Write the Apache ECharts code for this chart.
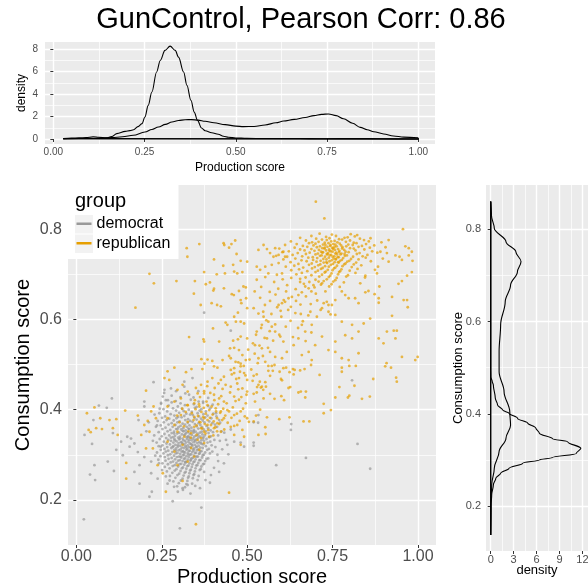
<!DOCTYPE html>
<html>
<head>
<meta charset="utf-8">
<script src="https://cdn.jsdelivr.net/npm/echarts@6/dist/echarts.min.js"></script>
<style>
html, body { margin: 0; padding: 0; background: #ffffff; }
#chart { width: 588px; height: 585px; }
</style>
</head>
<body>
<div id="chart"></div>
<script>
// ---- text and tick values ----
const titleText = 'GunControl, Pearson Corr: 0.86';
const legendTitle = 'group';
const groups = ['democrat', 'republican'];
const groupColors = ['#999999', '#E69F00'];
const productionTicks = [0, 0.25, 0.5, 0.75, 1];
const productionMinor = [0.125, 0.375, 0.625, 0.875];
const consumptionTicks = [0.2, 0.4, 0.6, 0.8];
const consumptionMinor = [0.3, 0.5, 0.7];
const topDensityTicks = [0, 2, 4, 6, 8];
const topDensityMinor = [1, 3, 5, 7];
const sideDensityTicks = [0, 3, 6, 9, 12];
const sideDensityMinor = [1.5, 4.5, 7.5, 10.5];

// ---- scatter points: [production score, consumption score] ----
const democratPoints = [
[0.262,0.421],[0.291,0.419],[0.335,0.422],[0.358,0.418],
[0.248,0.413],[0.279,0.416],[0.305,0.414],[0.344,0.412],[0.371,0.415],
[0.270,0.409],[0.297,0.407],[0.318,0.410],[0.352,0.406],[0.386,0.408],
[0.255,0.401],[0.283,0.403],[0.309,0.402],[0.329,0.400],[0.347,0.404],[0.366,0.401],[0.392,0.403],
[0.266,0.396],[0.292,0.398],[0.314,0.397],[0.338,0.395],[0.361,0.398],[0.379,0.396],
[0.243,0.392],[0.276,0.390],[0.301,0.393],[0.322,0.391],[0.333,0.389],[0.355,0.392],[0.372,0.390],[0.401,0.391],
[0.260,0.385],[0.287,0.387],[0.298,0.384],[0.316,0.386],[0.341,0.388],[0.359,0.385],[0.384,0.387],[0.410,0.385],
[0.251,0.382],[0.272,0.380],[0.293,0.381],[0.308,0.383],[0.327,0.379],[0.346,0.382],[0.365,0.380],[0.377,0.383],[0.395,0.381],
[0.238,0.375],[0.264,0.377],[0.285,0.376],[0.302,0.374],[0.319,0.377],[0.333,0.375],[0.352,0.378],[0.370,0.376],[0.389,0.374],[0.418,0.377],
[0.256,0.372],[0.279,0.370],[0.296,0.372],[0.311,0.369],[0.326,0.371],[0.340,0.373],[0.358,0.370],[0.375,0.372],[0.398,0.370],
[0.247,0.365],[0.270,0.367],[0.290,0.366],[0.305,0.364],[0.318,0.367],[0.331,0.365],[0.347,0.368],[0.363,0.366],[0.381,0.364],[0.406,0.367],
[0.233,0.362],[0.261,0.360],[0.282,0.362],[0.299,0.361],[0.313,0.359],[0.323,0.362],[0.337,0.360],[0.352,0.363],[0.368,0.361],[0.386,0.359],[0.412,0.362],
[0.252,0.357],[0.275,0.355],[0.292,0.357],[0.307,0.356],[0.320,0.354],[0.330,0.357],[0.344,0.355],[0.357,0.358],[0.373,0.356],[0.393,0.354],
[0.241,0.350],[0.267,0.352],[0.286,0.351],[0.301,0.349],[0.314,0.352],[0.326,0.350],[0.336,0.353],[0.349,0.351],[0.362,0.349],[0.379,0.352],[0.400,0.350],[0.425,0.352],
[0.258,0.346],[0.279,0.348],[0.295,0.347],[0.309,0.345],[0.321,0.348],[0.332,0.346],[0.343,0.349],[0.355,0.347],[0.369,0.345],[0.387,0.348],
[0.228,0.343],[0.250,0.341],[0.272,0.343],[0.289,0.342],[0.303,0.340],[0.316,0.343],[0.327,0.341],[0.338,0.344],[0.350,0.342],[0.363,0.340],[0.376,0.343],[0.394,0.341],[0.415,0.343],
[0.263,0.337],[0.283,0.339],[0.298,0.338],[0.311,0.336],[0.323,0.339],[0.334,0.337],[0.345,0.340],[0.357,0.338],[0.371,0.336],[0.389,0.339],
[0.244,0.335],[0.269,0.333],[0.287,0.335],[0.301,0.334],[0.313,0.332],[0.324,0.335],[0.330,0.333],[0.341,0.336],[0.352,0.334],[0.366,0.332],[0.381,0.335],[0.404,0.333],
[0.256,0.329],[0.277,0.331],[0.293,0.330],[0.306,0.328],[0.318,0.331],[0.328,0.329],[0.337,0.332],[0.348,0.330],[0.360,0.328],[0.374,0.331],[0.392,0.329],[0.420,0.331],
[0.235,0.327],[0.264,0.325],[0.284,0.327],[0.299,0.326],[0.311,0.324],[0.321,0.327],[0.332,0.325],[0.343,0.328],[0.354,0.326],[0.367,0.324],[0.384,0.327],
[0.252,0.321],[0.274,0.323],[0.290,0.322],[0.304,0.320],[0.316,0.323],[0.326,0.321],[0.336,0.324],[0.347,0.322],[0.358,0.320],[0.372,0.323],[0.396,0.321],
[0.241,0.319],[0.266,0.317],[0.284,0.319],[0.297,0.318],[0.309,0.316],[0.320,0.319],[0.330,0.317],[0.340,0.320],[0.351,0.318],[0.363,0.316],[0.379,0.319],[0.407,0.317],
[0.258,0.313],[0.278,0.315],[0.292,0.314],[0.305,0.312],[0.315,0.315],[0.325,0.313],[0.335,0.316],[0.345,0.314],[0.357,0.312],[0.370,0.315],[0.388,0.313],
[0.247,0.311],[0.269,0.309],[0.287,0.311],[0.300,0.310],[0.312,0.308],[0.322,0.311],[0.332,0.309],[0.342,0.312],[0.353,0.310],[0.366,0.308],[0.383,0.311],
[0.236,0.305],[0.262,0.307],[0.281,0.306],[0.296,0.304],[0.308,0.307],[0.318,0.305],[0.329,0.308],[0.339,0.306],[0.350,0.304],[0.362,0.307],[0.377,0.305],[0.398,0.307],
[0.255,0.303],[0.275,0.301],[0.291,0.303],[0.304,0.302],[0.315,0.300],[0.326,0.303],[0.336,0.301],[0.347,0.304],[0.359,0.302],[0.373,0.300],[0.391,0.303],
[0.246,0.297],[0.268,0.299],[0.286,0.298],[0.300,0.296],[0.312,0.299],[0.322,0.297],[0.333,0.300],[0.344,0.298],[0.356,0.296],[0.370,0.299],
[0.259,0.295],[0.279,0.293],[0.294,0.295],[0.307,0.294],[0.318,0.292],[0.329,0.295],[0.341,0.293],[0.353,0.296],[0.368,0.294],[0.386,0.292],
[0.240,0.289],[0.270,0.291],[0.289,0.290],[0.303,0.288],[0.315,0.291],[0.326,0.289],[0.337,0.292],[0.349,0.290],[0.363,0.288],[0.381,0.291],
[0.261,0.287],[0.283,0.285],[0.298,0.287],[0.311,0.286],[0.322,0.284],[0.334,0.287],[0.346,0.285],[0.360,0.288],[0.377,0.286],
[0.252,0.281],[0.276,0.283],[0.293,0.282],[0.307,0.280],[0.319,0.283],[0.331,0.281],[0.343,0.284],[0.357,0.282],[0.374,0.280],
[0.268,0.279],[0.288,0.277],[0.302,0.279],[0.316,0.278],[0.328,0.276],[0.340,0.279],[0.354,0.277],[0.371,0.279],
[0.259,0.273],[0.282,0.275],[0.298,0.274],[0.312,0.272],[0.325,0.275],[0.338,0.273],[0.351,0.276],[0.366,0.274],
[0.273,0.270],[0.293,0.268],[0.309,0.270],[0.322,0.269],[0.335,0.267],[0.349,0.270],[0.364,0.268],
[0.265,0.263],[0.288,0.265],[0.305,0.264],[0.320,0.262],[0.333,0.265],[0.347,0.263],[0.361,0.266],
[0.281,0.260],[0.301,0.258],[0.317,0.260],[0.331,0.259],[0.345,0.257],
[0.274,0.253],[0.296,0.255],[0.314,0.254],[0.329,0.252],[0.343,0.255],[0.358,0.253],
[0.290,0.249],[0.311,0.247],[0.327,0.249],[0.341,0.248],
[0.284,0.241],[0.306,0.243],[0.325,0.242],
[0.300,0.237],[0.322,0.235],[0.339,0.236],
[0.295,0.230],[0.318,0.228],[0.312,0.222],
[0.296,0.357],[0.311,0.353],[0.328,0.358],[0.343,0.352],[0.318,0.345],[0.303,0.336],[0.329,0.339],[0.346,0.333],[0.309,0.327],[0.338,0.322],
[0.322,0.316],[0.297,0.321],[0.352,0.317],[0.314,0.306],[0.343,0.309],[0.328,0.300],[0.305,0.296],[0.335,0.289],[0.319,0.284],[0.357,0.343],
[0.288,0.332],[0.364,0.326],[0.292,0.309],[0.361,0.303],[0.349,0.296],[0.286,0.347],[0.372,0.339],[0.282,0.317],[0.367,0.351],[0.277,0.338],
[0.205,0.352],[0.212,0.372],[0.224,0.331],[0.229,0.389],[0.231,0.298],[0.236,0.365],[0.242,0.281],[0.244,0.402],[0.247,0.318],[0.251,0.266],
[0.257,0.437],[0.262,0.252],[0.268,0.421],[0.273,0.243],[0.279,0.431],[0.286,0.229],[0.292,0.441],[0.297,0.218],[0.305,0.428],[0.311,0.226],
[0.319,0.436],[0.334,0.214],[0.343,0.427],[0.348,0.231],[0.357,0.441],[0.362,0.226],[0.371,0.418],[0.378,0.244],[0.386,0.426],[0.391,0.238],
[0.399,0.411],[0.403,0.271],[0.409,0.392],[0.415,0.286],[0.421,0.371],[0.427,0.312],[0.433,0.349],[0.438,0.333],[0.445,0.301],[0.452,0.356],
[0.022,0.157],[0.024,0.344],[0.046,0.324],[0.053,0.277],[0.055,0.244],[0.066,0.409],[0.089,0.404],[0.104,0.425],[0.050,0.377],[0.107,0.348],
[0.117,0.311],[0.110,0.264],[0.092,0.285],[0.136,0.299],[0.156,0.318],[0.160,0.336],[0.170,0.325],[0.180,0.306],[0.185,0.277],[0.170,0.262],
[0.185,0.236],[0.214,0.207],[0.221,0.218],[0.226,0.461],[0.199,0.418],[0.199,0.407],[0.182,0.377],[0.149,0.340],[0.131,0.329],[0.258,0.444],
[0.253,0.429],[0.277,0.447],[0.316,0.462],[0.340,0.470],[0.316,0.451],[0.330,0.433],[0.248,0.415],[0.282,0.197],[0.303,0.137],[0.366,0.183],
[0.481,0.327],[0.491,0.318],[0.462,0.329],[0.442,0.322],[0.413,0.300],[0.432,0.281],[0.418,0.262],[0.394,0.255],[0.374,0.262],[0.355,0.244],
[0.326,0.233],[0.267,0.236],[0.238,0.247],[0.219,0.259],[0.219,0.285],[0.199,0.295],[0.040,0.256],
[0.807,0.465],[0.533,0.388],[0.519,0.372],[0.532,0.371],[0.629,0.368],[0.628,0.355],[0.519,0.327],[0.519,0.320],[0.585,0.277],[0.672,0.293],
[0.823,0.324],[0.860,0.269],[0.374,0.615],[0.452,0.575]
];

const republicanPoints = [
[0.712,0.790],[0.748,0.788],[0.803,0.789],[0.822,0.787],
[0.688,0.785],[0.731,0.783],[0.760,0.785],[0.794,0.782],[0.815,0.784],
[0.655,0.781],[0.702,0.779],[0.741,0.780],[0.769,0.778],[0.785,0.781],[0.830,0.779],[0.861,0.780],
[0.672,0.775],[0.719,0.777],[0.733,0.776],[0.756,0.774],[0.778,0.777],[0.801,0.775],[0.842,0.776],
[0.628,0.773],[0.690,0.771],[0.709,0.772],[0.727,0.770],[0.746,0.773],[0.764,0.771],[0.789,0.772],[0.812,0.770],[0.856,0.773],[0.893,0.771],
[0.645,0.767],[0.681,0.769],[0.700,0.768],[0.722,0.766],[0.738,0.769],[0.752,0.767],[0.771,0.768],[0.796,0.766],[0.820,0.769],[0.848,0.767],
[0.611,0.765],[0.663,0.763],[0.694,0.764],[0.713,0.762],[0.729,0.765],[0.743,0.763],[0.758,0.766],[0.775,0.764],[0.790,0.762],[0.809,0.765],[0.836,0.763],[0.872,0.764],
[0.639,0.759],[0.676,0.761],[0.704,0.760],[0.720,0.758],[0.735,0.761],[0.749,0.759],[0.762,0.762],[0.779,0.760],[0.801,0.758],[0.826,0.761],[0.859,0.759],[0.905,0.760],
[0.594,0.757],[0.655,0.755],[0.688,0.756],[0.710,0.754],[0.726,0.757],[0.740,0.755],[0.752,0.758],[0.766,0.756],[0.784,0.754],[0.812,0.757],[0.843,0.755],
[0.622,0.751],[0.668,0.753],[0.697,0.752],[0.716,0.750],[0.731,0.753],[0.745,0.751],[0.757,0.754],[0.770,0.752],[0.788,0.750],[0.817,0.753],[0.866,0.751],
[0.603,0.749],[0.648,0.747],[0.683,0.748],[0.707,0.746],[0.722,0.749],[0.737,0.747],[0.750,0.750],[0.761,0.748],[0.776,0.746],[0.797,0.749],[0.829,0.747],[0.881,0.748],
[0.633,0.743],[0.672,0.745],[0.700,0.744],[0.718,0.742],[0.733,0.745],[0.746,0.743],[0.758,0.746],[0.773,0.744],[0.792,0.742],[0.821,0.745],[0.852,0.743],
[0.585,0.741],[0.617,0.739],[0.661,0.740],[0.692,0.738],[0.713,0.741],[0.728,0.739],[0.742,0.742],[0.755,0.740],[0.768,0.738],[0.786,0.741],[0.810,0.739],[0.838,0.740],
[0.641,0.735],[0.679,0.737],[0.705,0.736],[0.723,0.734],[0.739,0.737],[0.753,0.735],[0.765,0.738],[0.781,0.736],[0.804,0.734],[0.847,0.737],[0.897,0.735],
[0.606,0.733],[0.659,0.731],[0.693,0.732],[0.715,0.730],[0.732,0.733],[0.748,0.731],[0.760,0.734],[0.777,0.732],[0.799,0.730],[0.826,0.733],
[0.627,0.727],[0.674,0.729],[0.703,0.728],[0.724,0.726],[0.741,0.729],[0.756,0.727],[0.772,0.730],[0.793,0.728],[0.819,0.726],[0.862,0.729],
[0.592,0.725],[0.650,0.723],[0.689,0.724],[0.714,0.722],[0.734,0.725],[0.751,0.723],[0.768,0.726],[0.788,0.724],[0.812,0.722],
[0.638,0.719],[0.681,0.721],[0.708,0.720],[0.728,0.718],[0.745,0.721],[0.763,0.719],[0.784,0.722],[0.834,0.720],
[0.613,0.717],[0.664,0.715],[0.698,0.716],[0.721,0.714],[0.739,0.717],[0.758,0.715],[0.779,0.718],[0.806,0.716],
[0.652,0.711],[0.690,0.713],[0.716,0.712],[0.736,0.710],[0.754,0.713],[0.776,0.711],[0.823,0.712],[0.874,0.710],
[0.629,0.709],[0.676,0.707],[0.707,0.708],[0.730,0.706],[0.750,0.709],[0.772,0.707],[0.800,0.708],
[0.660,0.703],[0.700,0.705],[0.727,0.704],[0.747,0.702],[0.769,0.705],[0.817,0.703],
[0.644,0.700],[0.688,0.698],[0.719,0.699],[0.743,0.697],[0.766,0.700],[0.795,0.698],
[0.671,0.693],[0.711,0.695],[0.739,0.694],[0.762,0.692],[0.790,0.695],[0.845,0.693],
[0.655,0.690],[0.700,0.688],[0.733,0.689],[0.758,0.687],
[0.682,0.683],[0.724,0.685],[0.752,0.684],[0.783,0.682],
[0.666,0.679],[0.716,0.677],[0.747,0.678],
[0.697,0.671],[0.740,0.673],[0.771,0.672],
[0.727,0.759],[0.741,0.752],[0.756,0.761],[0.769,0.749],[0.735,0.744],[0.750,0.739],[0.763,0.744],[0.778,0.757],[0.744,0.765],[0.759,0.733],
[0.720,0.748],[0.785,0.745],[0.732,0.727],[0.766,0.727],[0.751,0.756],
[0.701,0.861],[0.726,0.824],[0.956,0.800],[0.914,0.776],[0.963,0.762],[0.973,0.758],[0.982,0.750],[0.973,0.742],[0.946,0.739],[0.934,0.742],
[0.953,0.732],[0.984,0.730],[0.914,0.728],[0.890,0.750],[0.909,0.747],[0.883,0.717],[0.880,0.702],[0.968,0.697],[0.982,0.705],[0.953,0.685],
[0.943,0.679],[0.887,0.673],[0.846,0.697],[0.831,0.680],[0.855,0.663],[0.846,0.660],[0.873,0.656],[0.885,0.647],[0.924,0.650],[0.958,0.643],
[0.968,0.643],[0.970,0.627],[0.924,0.608],[0.885,0.637],[0.816,0.647],[0.826,0.636],[0.797,0.647],[0.777,0.662],[0.787,0.654],[0.758,0.643],
[0.748,0.632],[0.738,0.632],[0.733,0.639],[0.724,0.636],[0.709,0.684],[0.719,0.680],[0.694,0.676],[0.680,0.669],[0.670,0.673],[0.660,0.660],
[0.650,0.654],[0.631,0.650],[0.621,0.647],[0.611,0.639],[0.602,0.636],[0.592,0.632],
[0.533,0.754],[0.548,0.765],[0.558,0.756],[0.567,0.747],[0.582,0.758],[0.577,0.739],[0.592,0.743],[0.606,0.750],[0.611,0.739],[0.572,0.721],
[0.553,0.717],[0.538,0.710],[0.528,0.717],[0.562,0.702],[0.587,0.699],[0.602,0.702],
[0.528,0.688],[0.541,0.672],[0.553,0.694],[0.566,0.661],[0.579,0.683],[0.591,0.668],[0.604,0.689],[0.617,0.676],[0.629,0.692],[0.642,0.667],
[0.655,0.683],[0.538,0.648],[0.552,0.632],[0.567,0.641],[0.583,0.655],[0.598,0.619],[0.614,0.662],[0.628,0.628],[0.643,0.641],[0.657,0.612],
[0.672,0.651],[0.686,0.634],[0.701,0.657],[0.715,0.621],[0.729,0.662],[0.744,0.611],[0.688,0.662],[0.705,0.642],[0.522,0.662],[0.547,0.617],
[0.519,0.625],[0.533,0.613],[0.548,0.606],[0.562,0.595],[0.572,0.584],[0.582,0.573],[0.597,0.562],[0.606,0.551],[0.543,0.588],[0.528,0.573],
[0.558,0.558],[0.523,0.543],[0.543,0.536],[0.567,0.528],[0.582,0.517],[0.533,0.514],[0.553,0.506],[0.602,0.514],[0.616,0.528],[0.636,0.543],
[0.650,0.558],[0.670,0.573],[0.689,0.588],[0.660,0.588],[0.685,0.617],[0.704,0.606],[0.719,0.625],[0.738,0.617],[0.758,0.610],[0.777,0.595],
[0.807,0.588],[0.826,0.573],[0.841,0.591],[0.860,0.602],[0.807,0.558],[0.787,0.565],[0.758,0.551],[0.738,0.532],[0.719,0.562],[0.699,0.543],
[0.680,0.528],[0.660,0.521],[0.689,0.510],[0.758,0.528],[0.777,0.514],[0.797,0.510],[0.826,0.525],[0.885,0.558],[0.909,0.573],[0.929,0.575],
[0.938,0.575],[0.899,0.547],[0.934,0.558],[0.953,0.517],[0.999,0.517],[0.992,0.510],
[0.455,0.478],[0.462,0.492],[0.468,0.468],[0.474,0.505],[0.479,0.484],[0.486,0.521],[0.490,0.497],[0.495,0.476],[0.503,0.533],[0.507,0.511],
[0.512,0.489],[0.517,0.547],[0.522,0.524],[0.526,0.566],[0.531,0.503],[0.536,0.542],[0.541,0.581],[0.546,0.519],[0.551,0.559],[0.556,0.598],
[0.561,0.537],[0.566,0.574],[0.571,0.612],[0.576,0.553],[0.582,0.589],[0.588,0.627],[0.594,0.566],[0.600,0.606],[0.607,0.643],[0.613,0.584],
[0.620,0.621],[0.627,0.597],[0.634,0.561],[0.641,0.614],[0.649,0.581],[0.656,0.633],[0.663,0.596],[0.671,0.552],[0.679,0.609],[0.688,0.571],
[0.323,0.758],[0.360,0.767],[0.325,0.739],[0.431,0.769],[0.433,0.765],[0.454,0.767],[0.465,0.775],[0.447,0.759],[0.403,0.733],[0.469,0.745],
[0.430,0.719],[0.459,0.721],[0.481,0.730],[0.500,0.728],[0.374,0.705],[0.411,0.700],[0.435,0.702],[0.462,0.706],[0.471,0.702],[0.486,0.705],
[0.214,0.701],[0.227,0.680],[0.293,0.685],[0.347,0.685],[0.379,0.678],[0.391,0.682],[0.403,0.668],[0.401,0.664],[0.432,0.669],[0.455,0.656],
[0.461,0.654],[0.476,0.663],[0.489,0.673],[0.496,0.671],[0.344,0.657],[0.396,0.636],[0.412,0.632],[0.423,0.629],[0.364,0.632],[0.173,0.626],
[0.473,0.615],[0.481,0.643],[0.497,0.647],[0.483,0.636],[0.500,0.625],[0.462,0.606],[0.467,0.595],[0.481,0.595],[0.491,0.591],[0.400,0.580],
[0.437,0.593],[0.442,0.588],[0.330,0.561],[0.372,0.556],[0.374,0.551],[0.418,0.551],[0.459,0.553],[0.473,0.556],[0.481,0.562],[0.500,0.558],
[0.450,0.536],[0.462,0.537],[0.476,0.532],[0.366,0.512],[0.384,0.511],[0.398,0.508],[0.375,0.502],[0.428,0.510],[0.447,0.519],[0.452,0.514],
[0.466,0.506],[0.481,0.502],[0.496,0.510],
[0.053,0.405],[0.031,0.392],[0.070,0.381],[0.097,0.377],[0.117,0.379],[0.058,0.359],[0.036,0.355],[0.075,0.357],[0.042,0.350],[0.107,0.359],
[0.121,0.344],[0.143,0.398],[0.146,0.282],[0.146,0.247],[0.180,0.387],[0.199,0.366],[0.204,0.442],[0.226,0.407],[0.219,0.396],[0.233,0.381],
[0.209,0.375],[0.214,0.351],[0.190,0.344],[0.204,0.314],[0.258,0.470],[0.267,0.485],[0.287,0.493],[0.321,0.483],[0.337,0.490],[0.369,0.490],
[0.403,0.496],[0.413,0.493],[0.452,0.488],[0.481,0.496],[0.462,0.481],[0.476,0.470],[0.491,0.481],[0.500,0.466],[0.272,0.466],[0.311,0.455],
[0.296,0.444],[0.326,0.440],[0.350,0.448],[0.365,0.455],[0.384,0.462],[0.398,0.470],[0.423,0.466],[0.432,0.473],[0.437,0.455],[0.452,0.451],
[0.471,0.458],[0.486,0.447],[0.500,0.440],[0.403,0.433],[0.374,0.436],[0.418,0.425],[0.432,0.418],[0.462,0.429],[0.476,0.422],[0.496,0.414],
[0.306,0.425],[0.287,0.418],[0.267,0.407],[0.326,0.410],[0.345,0.414],[0.360,0.407],[0.384,0.410],[0.408,0.403],[0.423,0.396],[0.442,0.399],
[0.462,0.388],[0.481,0.396],[0.500,0.381],[0.432,0.381],[0.413,0.370],[0.452,0.362],[0.471,0.366],[0.486,0.355],[0.505,0.373],[0.403,0.359],
[0.423,0.351],[0.462,0.344],[0.481,0.322],[0.491,0.340],[0.447,0.216],[0.350,0.146],[0.262,0.218],[0.311,0.242],
[0.267,0.381],[0.287,0.366],[0.306,0.388],[0.326,0.373],[0.345,0.384],[0.360,0.373],[0.374,0.381],[0.384,0.366],[0.365,0.359],[0.345,0.362],
[0.296,0.351],[0.316,0.340],[0.336,0.348],[0.355,0.333],[0.374,0.351],[0.267,0.329],[0.287,0.307],[0.311,0.322],[0.336,0.315],[0.360,0.311],
[0.374,0.326],[0.296,0.277],[0.326,0.285],[0.345,0.296],[0.238,0.277],[0.253,0.259],[0.224,0.314],
[0.338,0.392],[0.343,0.377],[0.349,0.401],[0.352,0.365],[0.356,0.386],[0.359,0.412],[0.363,0.372],[0.366,0.395],[0.368,0.358],[0.371,0.384],
[0.373,0.404],[0.376,0.368],[0.379,0.391],[0.381,0.418],[0.384,0.377],[0.386,0.355],[0.389,0.399],[0.391,0.382],[0.394,0.366],[0.396,0.407],
[0.399,0.389],[0.402,0.374],[0.404,0.421],[0.407,0.361],[0.409,0.396],[0.412,0.381],[0.415,0.412],[0.418,0.368],[0.421,0.393],[0.424,0.430],
[0.427,0.377],[0.430,0.402],[0.433,0.356],[0.436,0.387],[0.440,0.414],[0.443,0.371],[0.447,0.396],[0.450,0.438],[0.454,0.382],[0.458,0.405],
[0.462,0.364],[0.466,0.419],[0.470,0.391],[0.474,0.445],[0.478,0.375],[0.483,0.428],[0.488,0.402],[0.493,0.385],[0.498,0.433],[0.347,0.421],
[0.355,0.436],[0.362,0.428],[0.374,0.441],[0.383,0.452],[0.392,0.437],[0.405,0.448],[0.416,0.458],[0.428,0.446],[0.320,0.395],[0.325,0.410],
[0.310,0.402],[0.295,0.387],[0.302,0.372],[0.315,0.363],[0.328,0.352],[0.335,0.338],[0.352,0.344],[0.365,0.337],[0.378,0.347],[0.389,0.340],
[0.401,0.343],[0.412,0.352],
[0.562,0.497],[0.572,0.497],[0.580,0.499],[0.606,0.492],[0.614,0.493],[0.634,0.490],[0.639,0.488],[0.655,0.487],[0.668,0.490],[0.687,0.499],
[0.562,0.486],[0.575,0.486],[0.595,0.484],[0.624,0.483],[0.636,0.478],[0.528,0.478],[0.519,0.475],[0.567,0.475],[0.712,0.477],[0.599,0.468],
[0.602,0.465],[0.516,0.464],[0.537,0.462],[0.553,0.461],[0.533,0.455],[0.543,0.451],[0.540,0.449],[0.555,0.451],[0.529,0.450],[0.621,0.448],
[0.626,0.450],[0.547,0.444],[0.528,0.438],[0.519,0.435],[0.567,0.435],[0.600,0.430],[0.650,0.438],[0.657,0.440],[0.672,0.440],[0.670,0.427],
[0.548,0.425],[0.580,0.424],[0.608,0.421],[0.523,0.418],[0.724,0.413],[0.538,0.400],[0.745,0.399],[0.526,0.387],[0.558,0.383],[0.594,0.379],
[0.624,0.383],[0.724,0.392],[0.519,0.374],[0.665,0.374],[0.682,0.374],[0.553,0.361],[0.533,0.344],[0.554,0.346],[0.777,0.493],[0.799,0.497],
[0.818,0.497],[0.777,0.484],[0.770,0.450],[0.814,0.453],[0.758,0.427],[0.795,0.427],[0.799,0.431],[0.836,0.424],[0.859,0.429],[0.869,0.468],
[0.904,0.496],[0.921,0.493],[0.936,0.471],[0.938,0.462],[0.908,0.503]
];

// ---- marginal densities ----
// production score density: [score, density]
const democratProductionDensity = [
[0.027,0.03],[0.050,0.08],[0.070,0.10],[0.090,0.12],[0.109,0.20],[0.125,0.15],[0.146,0.10],[0.160,0.22],[0.174,0.48],[0.197,0.68],
[0.210,0.75],[0.220,0.82],[0.232,1.10],[0.243,1.37],[0.251,1.96],[0.260,3.00],[0.270,4.19],[0.283,5.98],[0.293,7.00],[0.306,7.90],
[0.320,8.28],[0.334,7.90],[0.343,7.30],[0.357,5.98],[0.366,4.79],[0.377,3.45],[0.386,2.40],[0.395,1.66],[0.406,0.98],[0.416,0.74],
[0.434,0.56],[0.452,0.42],[0.466,0.24],[0.480,0.15],[0.500,0.09],[0.530,0.06],[0.580,0.04],[0.650,0.05],[0.700,0.03],[0.750,0.02],
[0.820,0.04],[0.900,0.02],[1.000,0.00]
];
const republicanProductionDensity = [
[0.027,0.02],[0.070,0.04],[0.100,0.06],[0.130,0.08],[0.160,0.12],[0.190,0.20],[0.219,0.33],[0.251,0.62],[0.270,0.85],[0.288,1.07],
[0.307,1.30],[0.325,1.52],[0.343,1.65],[0.361,1.72],[0.379,1.73],[0.397,1.68],[0.416,1.58],[0.440,1.45],[0.471,1.28],[0.500,1.15],
[0.521,1.10],[0.550,1.12],[0.580,1.25],[0.610,1.45],[0.631,1.60],[0.660,1.75],[0.690,1.92],[0.714,2.08],[0.735,2.20],[0.754,2.23],
[0.775,2.08],[0.795,1.80],[0.820,1.40],[0.841,1.04],[0.860,0.82],[0.878,0.65],[0.905,0.45],[0.932,0.27],[0.960,0.17],[1.000,0.10]
];
// consumption score density: [density, score]
const democratConsumptionDensity = [
[0.00,0.137],[0.05,0.202],[0.13,0.224],[0.35,0.246],[0.67,0.260],[1.30,0.271],[2.40,0.282],[4.20,0.293],[6.37,0.300],[8.10,0.305],
[11.20,0.314],[11.80,0.325],[10.10,0.339],[8.10,0.346],[6.37,0.358],[5.90,0.369],[4.84,0.380],[3.53,0.390],[2.40,0.401],[1.57,0.408],
[0.90,0.419],[0.60,0.434],[0.35,0.462],[0.20,0.470],[0.02,0.480],[0.00,0.500],[0.00,0.860]
];
const republicanConsumptionDensity = [
[0.00,0.137],[0.02,0.200],[0.13,0.246],[0.47,0.282],[1.10,0.318],[2.00,0.347],[2.60,0.375],[2.50,0.404],[1.75,0.448],[1.10,0.491],
[1.10,0.535],[1.30,0.593],[1.90,0.643],[2.60,0.679],[3.50,0.708],[3.97,0.730],[3.30,0.751],[2.00,0.773],[0.47,0.802],[0.10,0.830],
[0.00,0.860]
];

// ---- styling ----
const FONT = '"Liberation Sans", Arial, Helvetica, sans-serif';
const PANEL_BG = '#EBEBEB';

function majorAxis(o) {
  return {
    type: 'value', gridIndex: o.grid, min: o.min, max: o.max,
    axisLine: { show: false },
    axisTick: { show: true, length: 3, lineStyle: { color: '#333333', width: 1 }, customValues: o.ticks },
    axisLabel: { customValues: o.ticks, formatter: o.fmt, fontSize: o.fs, color: '#4D4D4D',
                 margin: o.margin, fontFamily: FONT, showMinLabel: true, showMaxLabel: true, hideOverlap: false },
    splitLine: { show: true, lineStyle: { color: '#FFFFFF', width: 1.4 } },
    name: o.name, nameLocation: 'middle', nameGap: o.gap, nameMoveOverlap: false,
    nameTextStyle: { fontSize: o.nfs, color: '#000000', fontFamily: FONT }
  };
}
function minorAxis(o) {
  return {
    type: 'value', gridIndex: o.grid, min: o.min, max: o.max,
    axisLine: { show: false },
    axisTick: { show: false, customValues: o.ticks },
    axisLabel: { show: false, customValues: o.ticks },
    splitLine: { show: true, lineStyle: { color: '#FFFFFF', width: 0.7 } }
  };
}
const fmt2 = v => v.toFixed(2);
const fmt1 = v => v.toFixed(1);
const fmt0 = v => String(Math.round(v));

// value ranges of the three panels
const topX = { min: -0.0228, max: 1.0457 };
const topY = { min: -0.446, max: 8.65 };
const mainX = { min: -0.0244, max: 1.0527 };
const mainY = { min: 0.1, max: 0.898 };
const sideX = { min: -0.615, max: 12.736 };
const sideY = { min: 0.1025, max: 0.896 };

const xAxes = [
  majorAxis({ grid: 0, ...topX, ticks: productionTicks, fmt: fmt2, fs: 10, margin: 3, name: 'Production score', gap: 18, nfs: 12 }),
  majorAxis({ grid: 1, ...mainX, ticks: productionTicks, fmt: fmt2, fs: 16, margin: 4, name: 'Production score', gap: 22, nfs: 20 }),
  majorAxis({ grid: 2, ...sideX, ticks: sideDensityTicks, fmt: fmt0, fs: 11, margin: 3, name: 'density', gap: 13, nfs: 13 }),
  minorAxis({ grid: 0, ...topX, ticks: productionMinor }),
  minorAxis({ grid: 1, ...mainX, ticks: productionMinor }),
  minorAxis({ grid: 2, ...sideX, ticks: sideDensityMinor })
];
const yAxes = [
  majorAxis({ grid: 0, ...topY, ticks: topDensityTicks, fmt: fmt0, fs: 10, margin: 7, name: 'density', gap: 17, nfs: 12 }),
  majorAxis({ grid: 1, ...mainY, ticks: consumptionTicks, fmt: fmt1, fs: 16, margin: 6, name: 'Consumption score', gap: 35, nfs: 20 }),
  majorAxis({ grid: 2, ...sideY, ticks: consumptionTicks, fmt: fmt1, fs: 11, margin: 5, name: 'Consumption score', gap: 21.5, nfs: 13 }),
  minorAxis({ grid: 0, ...topY, ticks: topDensityMinor }),
  minorAxis({ grid: 1, ...mainY, ticks: consumptionMinor }),
  minorAxis({ grid: 2, ...sideY, ticks: consumptionMinor })
];

const lineStyle = { color: '#000000', width: 1.1 };
function densityCurve(name, data, idx, mono) {
  return { type: 'line', name, xAxisIndex: idx, yAxisIndex: idx, data, symbol: 'none',
           smooth: 0.35, smoothMonotone: mono, lineStyle, silent: true, z: 3 };
}
function densityEdges(name, data, idx) {
  return { type: 'line', name, xAxisIndex: idx, yAxisIndex: idx, data, symbol: 'none',
           lineStyle, silent: true, z: 3 };
}
// closing edges of each density outline (ends down to zero and the baseline)
function topEdges(d) {
  const a = d[0], b = d[d.length - 1];
  return [[a[0], a[1]], [a[0], 0], [b[0], 0], [b[0], b[1]]];
}
function sideEdges(d) {
  const a = d[0], b = d[d.length - 1];
  return [[a[0], a[1]], [0, a[1]], [0, b[1]], [b[0], b[1]]];
}
function scatter(name, data, color) {
  return { type: 'scatter', name, xAxisIndex: 1, yAxisIndex: 1, data, symbol: 'circle', symbolSize: 2.8,
           itemStyle: { color, opacity: 0.7 }, silent: true, z: 2 };
}

const gridBase = { show: true, backgroundColor: PANEL_BG, borderWidth: 0, containLabel: false, outerBoundsMode: 'none' };

const option = {
  animation: false,
  backgroundColor: '#FFFFFF',
  textStyle: { fontFamily: FONT },
  grid: [
    { ...gridBase, left: 45, top: 42, width: 390, height: 102 },
    { ...gridBase, left: 68, top: 185, width: 368, height: 360 },
    { ...gridBase, left: 486, top: 185, width: 102, height: 366 }
  ],
  xAxis: xAxes,
  yAxis: yAxes,
  legend: {
    data: groups.map((g, i) => ({ name: g, itemStyle: { color: groupColors[i], opacity: 1 } })),
    orient: 'vertical', left: 76.5, top: 214, padding: 0, itemGap: 0,
    itemWidth: 15, itemHeight: 2.5, icon: 'rect', selectedMode: false,
    textStyle: { fontSize: 16, color: '#000000', fontFamily: FONT, lineHeight: 19.5 }
  },
  graphic: [
    { type: 'text', z: 5, style: { x: 301, y: 20, text: titleText, fontSize: 29, fontFamily: FONT,
      fill: '#000000', align: 'center', verticalAlign: 'middle' } },
    { type: 'rect', z: 3, shape: { x: 68, y: 185, width: 110.5, height: 74 }, style: { fill: '#FFFFFF' } },
    { type: 'text', z: 3, style: { x: 75, y: 201.3, text: legendTitle, fontSize: 20, fontFamily: FONT,
      fill: '#000000', align: 'left', verticalAlign: 'middle' } },
    { type: 'rect', z: 3, shape: { x: 75, y: 215, width: 18, height: 18.5 }, style: { fill: '#F2F2F2' } },
    { type: 'rect', z: 3, shape: { x: 75, y: 234.5, width: 18, height: 18.5 }, style: { fill: '#F2F2F2' } }
  ],
  series: [
    densityCurve('democrat production density', democratProductionDensity, 0, 'x'),
    densityEdges('democrat production base', topEdges(democratProductionDensity), 0),
    densityCurve('republican production density', republicanProductionDensity, 0, 'x'),
    densityEdges('republican production base', topEdges(republicanProductionDensity), 0),
    scatter(groups[0], democratPoints, groupColors[0]),
    scatter(groups[1], republicanPoints, groupColors[1]),
    densityCurve('democrat consumption density', democratConsumptionDensity, 2, 'y'),
    densityEdges('democrat consumption base', sideEdges(democratConsumptionDensity), 2),
    densityCurve('republican consumption density', republicanConsumptionDensity, 2, 'y'),
    densityEdges('republican consumption base', sideEdges(republicanConsumptionDensity), 2)
  ]
};

const chart = echarts.init(document.getElementById('chart'), null, { renderer: 'canvas' });
chart.setOption(option);
</script>
</body>
</html>
